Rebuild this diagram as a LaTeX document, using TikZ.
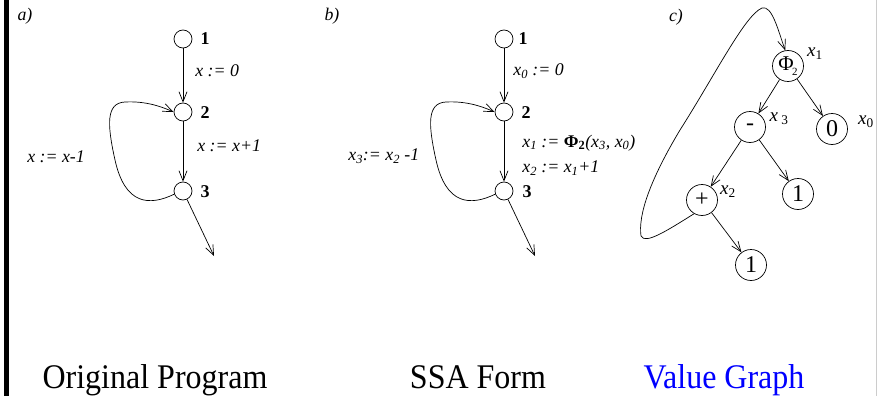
\documentclass[tikz,border=0pt]{standalone}
\usepackage{fontspec}
\setmainfont{Liberation Serif}
\usetikzlibrary{arrows.meta}
\definecolor{vgblue}{RGB}{0,0,255}
\begin{document}
\begin{tikzpicture}[x=1pt,y=-1pt, line width=0.7pt,
 cfg/.style={circle,draw,minimum size=18pt,inner sep=0pt},
 vg/.style={circle,draw,minimum size=31pt,inner sep=0pt,font=\fontsize{24}{24}\selectfont},
 arr/.style={-{Straight Barb[length=10pt,width=8pt]}},
 lab/.style={font=\fontsize{17.8}{18}\selectfont\itshape, inner sep=0pt},
 num/.style={font=\fontsize{18}{18}\selectfont\bfseries, inner sep=0pt},
 vlab/.style={font=\fontsize{19}{19}\selectfont, inner sep=0pt},
 captext/.style={font=\fontsize{32}{32}\selectfont, inner sep=0pt, anchor=base, yscale=1.08}]
\useasboundingbox (0,0) rectangle (878,396);
\fill (4,0) rectangle (9,396);
\draw[gray!40, line width=1pt] (876.5,0) -- (876.5,396);

% ---- panel a
\node[lab] (pa) at (25,16) {a)};
\node[cfg] (a1) at (183,39) {};
\node[cfg] (a2) at (183,112) {};
\node[cfg] (a3) at (183,191) {};
\node[num] (a1l) at (205,39) {1};
\node[num] (a2l) at (205,113) {2};
\node[num] (a3l) at (205,192) {3};
\coordinate (aout) at (214,256);
\draw[arr] (a1) -- (a2);
\draw[arr] (a2) -- (a3);
\draw[arr] (a3) -- (aout);
\draw[arr] (a3.200) .. controls +(-25,12) and (125,205) .. (115,160)
  .. controls (107,124) and (106,103) .. (125,102)
  .. controls (145,101) and (160,106) .. (a2.west);
\node[lab,anchor=west] (al1) at (195,71) {x := 0};
\node[lab,anchor=west] (al2) at (197,146) {x := x+1};
\node[lab,anchor=west] (al3) at (27,157) {x := x-1};

% ---- panel b
\node[lab] (pb) at (332,16) {b)};
\node[cfg] (b1) at (504,39) {};
\node[cfg] (b2) at (504,112) {};
\node[cfg] (b3) at (504,191) {};
\node[num] (b1l) at (523,39) {1};
\node[num] (b2l) at (526,113) {2};
\node[num] (b3l) at (527,192) {3};
\coordinate (bout) at (535,256);
\draw[arr] (b1) -- (b2);
\draw[arr] (b2) -- (b3);
\draw[arr] (b3) -- (bout);
\draw[arr] (b3.200) .. controls +(-25,12) and (446,205) .. (436,160)
  .. controls (428,124) and (427,103) .. (446,102)
  .. controls (466,101) and (481,106) .. (b2.west);
\node[lab,anchor=west] (bl1) at (513,71) {x\textsubscript{0} := 0};
\node[lab,anchor=west] (bl2) at (522,143) {x\textsubscript{1} := \textup{\textbf{Φ\textsubscript{2}}}(x\textsubscript{3}, x\textsubscript{0})};
\node[lab,anchor=west] (bl3) at (522,168) {x\textsubscript{2} := x\textsubscript{1}+1};
\node[lab,anchor=west] (bl4) at (348,156) {x\textsubscript{3}:= x\textsubscript{2} -1};

% ---- panel c
\node[lab] (pc) at (676,17) {c)};
\node[vg] (phi) at (788,66) {\fontsize{21}{21}\selectfont Φ\kern-0.08em\raisebox{-0.22em}{\fontsize{11}{11}\selectfont 2}};
\node[vg] (minus) at (750,127) {-};
\node[vg] (zero) at (832,129) {0};
\node[vg] (oneA) at (798,194) {1};
\node[vg] (plus) at (702,200) {+};
\node[vg] (oneB) at (751,265) {1};
\draw[arr] (phi) -- (minus);
\draw[arr] (phi) -- (zero);
\draw[arr] (minus) -- (plus);
\draw[arr] (minus) -- (oneA);
\draw[arr] (plus) -- (oneB);
\draw[arr] (plus.240) .. controls (668,230) and (645,245) .. (641,236)
  .. controls (638,215) and (650,180) .. (680,130)
  .. controls (715,75) and (745,15) .. (762,8)
  .. controls (772,5) and (778,30) .. (phi.100);
\node[vlab] (lx1) at (815,54) {\textit{x}\textsubscript{1}};
\node[vlab] (lx3) at (779,119) {\textit{x}\textsubscript{ 3}};
\node[vlab] (lx0) at (866,122) {\textit{x}\textsubscript{0}};
\node[vlab] (lx2) at (728,192) {\textit{x}\textsubscript{2}};

% ---- captions
\node[captext] (capa) at (155,388) {Original Program};
\node[captext] (capb) at (478,388) {SSA Form};
\node[captext, text=vgblue] (capc) at (724,388) {Value Graph};
\end{tikzpicture}
\end{document}
